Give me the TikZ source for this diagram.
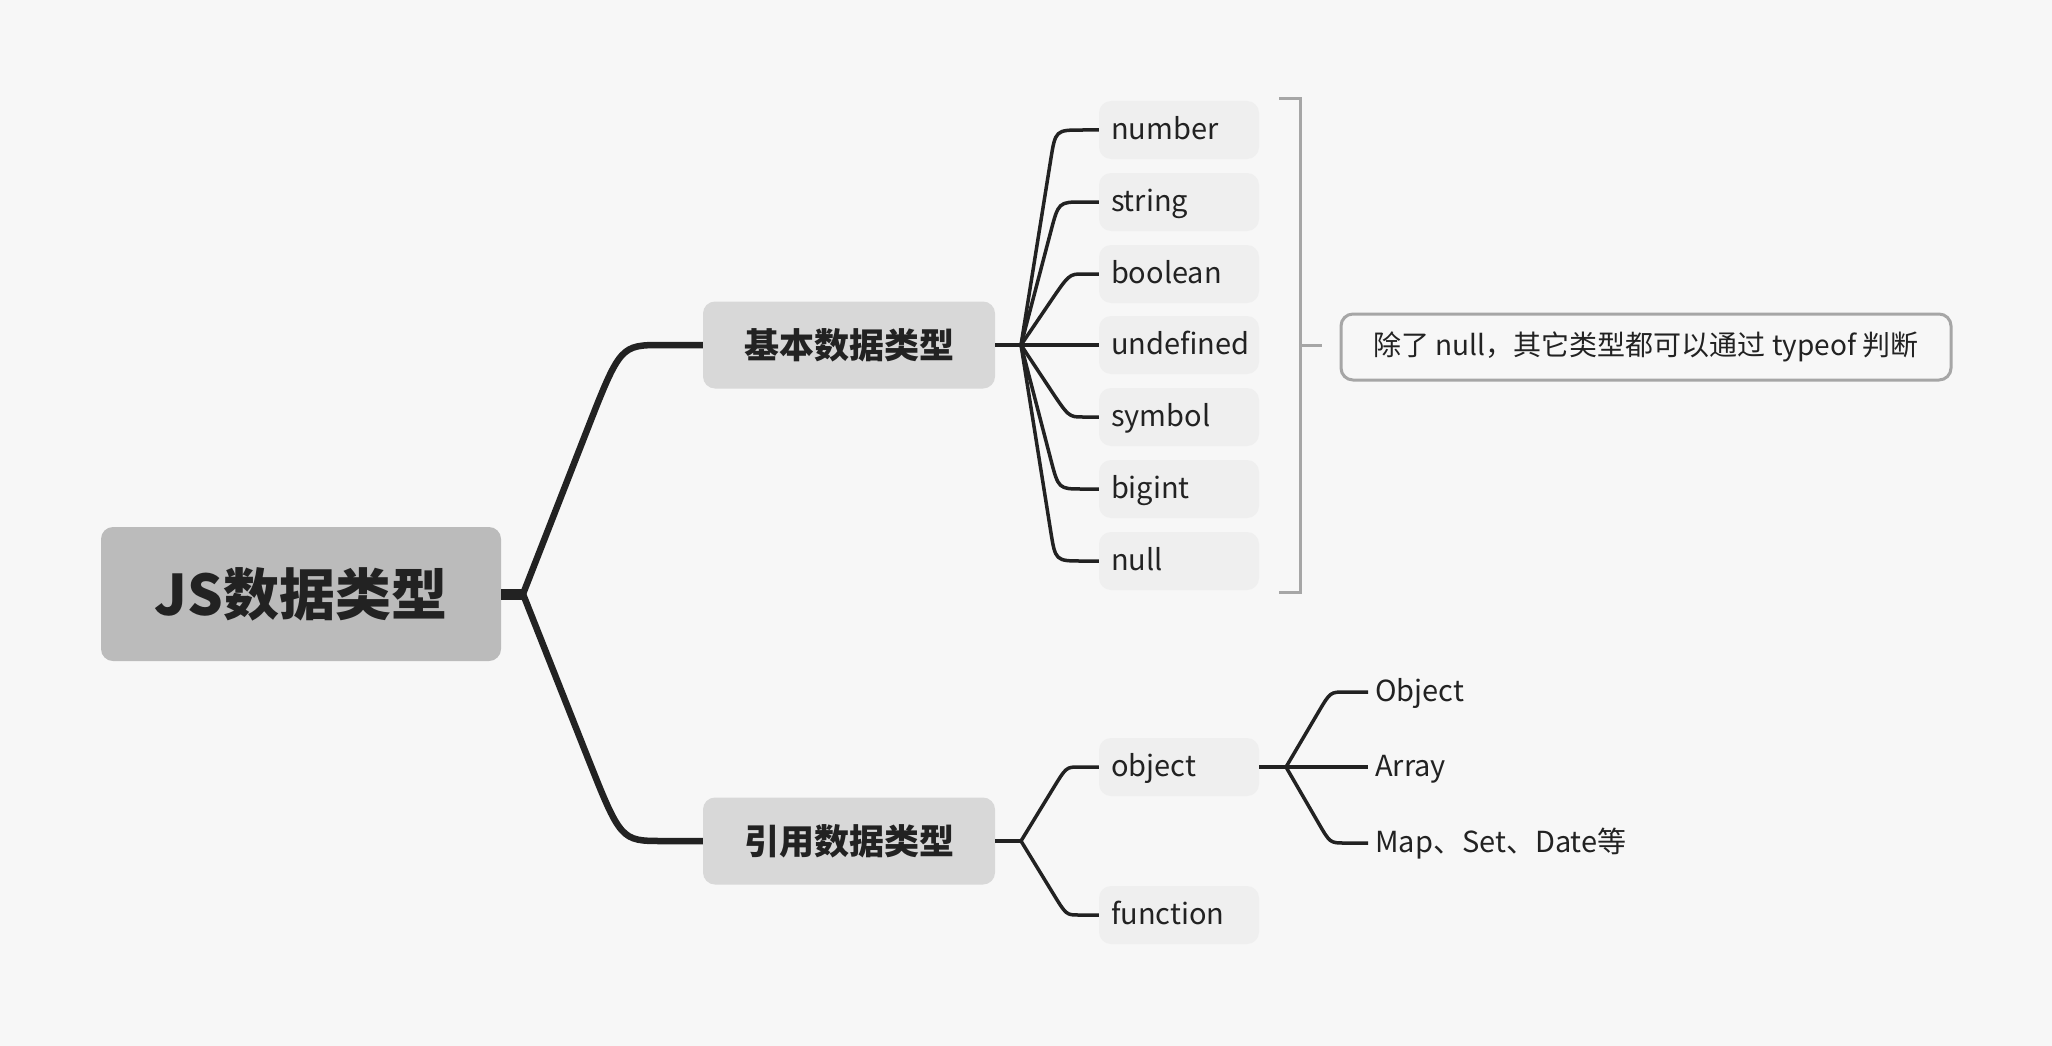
\documentclass[tikz,border=0pt]{standalone}
\usepackage{fontspec}
\setmainfont{Noto Sans CJK SC}
\usetikzlibrary{calc}
\definecolor{bg}{HTML}{F7F7F7}
\definecolor{ink}{HTML}{222222}
\definecolor{rootfill}{HTML}{BBBBBB}
\definecolor{mainfill}{HTML}{D8D8D8}
\definecolor{leaffill}{HTML}{EFEFEF}
\definecolor{brk}{HTML}{A6A6A6}
\tikzset{
  elbow/.style n args={3}{to path={
    let \p1=(\tikztostart), \p2=(\tikztotarget),
        \n1={ifthenelse(\y2>\y1,1,-1)},
        \n2={\x2-#1},
        \n3={\x1+#3*(\n2-\x1)},
        \n4={\y2-\n1*#2},
        \n5={\n3+(\n3-\x1)*(\y2-\n4)/(\n4-\y1)}
    in -- ({\n3*1pt},{\n4*1pt}) .. controls ({\n5*1pt},\y2) .. ({\n2*1pt},\y2) -- (\tikztotarget)}}
}
\begin{document}
\begin{tikzpicture}[x=1pt,y=-1pt,
  rootbox/.style={fill=rootfill, rounded corners=12pt, minimum width=400pt, minimum height=134pt, inner sep=0pt, text=ink, font=\fontsize{56}{62}\selectfont\bfseries},
  mainbox/.style={fill=mainfill, rounded corners=12pt, minimum width=292pt, minimum height=87pt, inner sep=0pt, text=ink, font=\fontsize{35}{40}\selectfont\bfseries},
  leafbox/.style={fill=leaffill, rounded corners=12pt, minimum height=58pt, text width=136pt, text height=24pt, text depth=5pt, inner xsep=12pt, inner ysep=0pt, align=left, text=ink, font=\fontsize{29}{34}\selectfont},
  plainleaf/.style={anchor=west, inner xsep=7pt, inner ysep=0pt, text height=24pt, text depth=5pt, text=ink, font=\fontsize{29}{34}\selectfont},
  notebox/.style={draw=brk, line width=3pt, fill=bg, rounded corners=12pt, minimum width=610pt, minimum height=66pt, inner sep=0pt, text=ink, font=\fontsize{28}{32}\selectfont},
  thick link/.style={draw=ink, line width=6.5pt, line join=round},
  link/.style={draw=ink, line width=3.5pt, line join=round},
  bracket/.style={draw=brk, line width=3pt}
]
\fill[bg] (0,0) rectangle (2052,1046);

% nodes
\node[rootbox] (root) at (301,594) {JS数据类型};
\node[mainbox] (b1) at (849,345) {基本数据类型};
\node[mainbox] (b2) at (849,841) {引用数据类型};

\node[leafbox] (l1) at (1179,130) {number};
\node[leafbox] (l2) at (1179,202) {string};
\node[leafbox] (l3) at (1179,274) {boolean};
\node[leafbox] (l4) at (1179,345) {undefined};
\node[leafbox] (l5) at (1179,417) {symbol};
\node[leafbox] (l6) at (1179,489) {bigint};
\node[leafbox] (l7) at (1179,561) {null};

\node[leafbox] (o) at (1179,767) {object};
\node[leafbox] (f) at (1179,915) {function};

\node[plainleaf] (c1) at (1368,692) {Object};
\node[plainleaf] (c2) at (1368,767) {Array};
\node[plainleaf] (c3) at (1368,843) {Map、Set、Date等};

\node[notebox] (note) at (1646,347) {除了 null，其它类型都可以通过 typeof 判断};

% junctions
\coordinate (jr) at (523,594);
\coordinate (jb) at (1021,345);
\coordinate (jo) at (1021,841);
\coordinate (jx) at (1286,767);

% root connectors
\draw[draw=ink, line width=11pt] (root.east) -- (jr);
\draw[thick link] (jr) to[elbow={40}{88}{0.45}] (b1.west);
\draw[thick link] (jr) to[elbow={40}{88}{0.45}] (b2.west);

% basic types
\draw[link] (b1.east) -- (jb);
\draw[link] (jb) to[elbow={16}{30}{0.48}] (l1.west);
\draw[link] (jb) to[elbow={16}{30}{0.48}] (l2.west);
\draw[link] (jb) to[elbow={16}{30}{0.45}] (l3.west);
\draw[link] (jb) -- (l4.west);
\draw[link] (jb) to[elbow={16}{30}{0.45}] (l5.west);
\draw[link] (jb) to[elbow={16}{30}{0.48}] (l6.west);
\draw[link] (jb) to[elbow={16}{30}{0.48}] (l7.west);

% reference types
\draw[link] (b2.east) -- (jo);
\draw[link] (jo) to[elbow={20}{22}{0.55}] (o.west);
\draw[link] (jo) to[elbow={20}{22}{0.55}] (f.west);
\draw[link] (o.east) -- (jx);
\draw[link] (jx) to[elbow={23}{20}{0.55}] (c1.west);
\draw[link] (jx) -- (c2.west);
\draw[link] (jx) to[elbow={23}{20}{0.55}] (c3.west);

% bracket
\coordinate (bt) at (1279,99);
\coordinate (btr) at (1300,99);
\coordinate (bbr) at (1300,592);
\coordinate (bb) at (1279,592);
\coordinate (bm) at (1300,345);
\coordinate (bk) at (1322,345);
\draw[bracket] (bt) -- (btr) -- (bbr) -- (bb);
\draw[bracket] (bm) -- (bk);
\end{tikzpicture}
\end{document}
